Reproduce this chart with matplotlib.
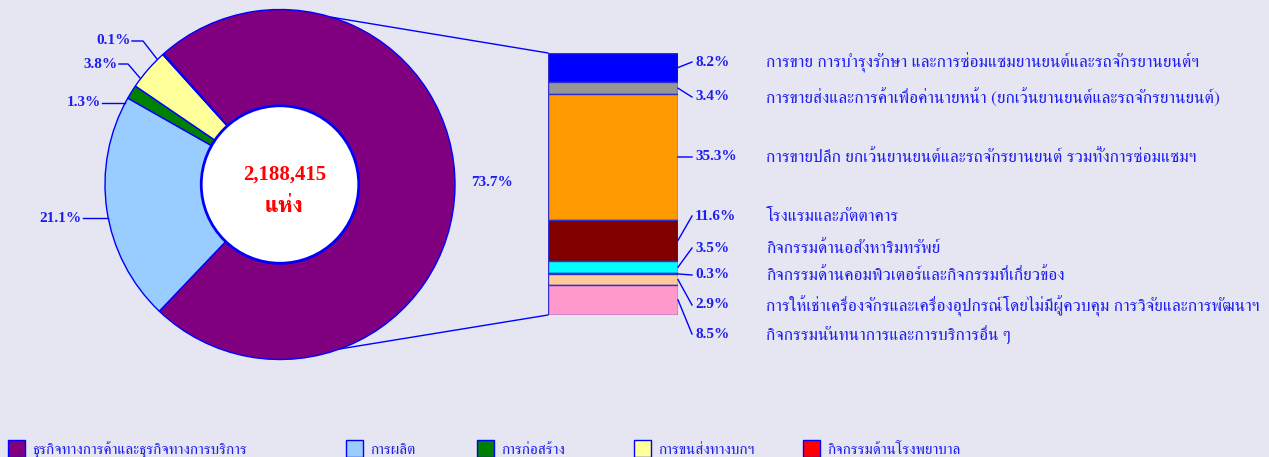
import math
import matplotlib
matplotlib.use('Agg')
import matplotlib.pyplot as plt
from matplotlib.patches import ConnectionPatch, Circle, Rectangle

# pie data
pie_labels = ['ธุรกิจทางการค้าและธุรกิจทางการบริการ', 'การผลิต', 'การก่อสร้าง',
              'การขนส่งทางบกฯ', 'กิจกรรมด้านโรงพยาบาล']
pie_values = [73.7, 21.1, 1.3, 3.8, 0.1]
pie_colors = ['#800080', '#99CCFF', '#008000', '#FFFF99', '#FF0000']
total_text = '2,188,415'
unit_text = 'แห่ง'

# bar (breakdown of first slice), top to bottom
bar_labels = ['การขาย การบำรุงรักษา และการซ่อมแซมยานยนต์และรถจักรยานยนต์ฯ',
              'การขายส่งและการค้าเพื่อค่านายหน้า (ยกเว้นยานยนต์และรถจักรยานยนต์)',
              'การขายปลีก ยกเว้นยานยนต์และรถจักรยานยนต์ รวมทั้งการซ่อมแซมฯ',
              'โรงแรมและภัตตาคาร',
              'กิจกรรมด้านอสังหาริมทรัพย์',
              'กิจกรรมด้านคอมพิวเตอร์และกิจกรรมที่เกี่ยวข้อง',
              'การให้เช่าเครื่องจักรและเครื่องอุปกรณ์โดยไม่มีผู้ควบคุม การวิจัยและการพัฒนาฯ',
              'กิจกรรมนันทนาการและการบริการอื่น ๆ']
bar_values = [8.2, 3.4, 35.3, 11.6, 3.5, 0.3, 2.9, 8.5]
bar_colors = ['#0000FF', '#969696', '#FF9900', '#800000', '#00FFFF', '#CCFFCC', '#FFCC99', '#FF99CC']

W, H = 1269, 457
bg = '#E6E6F2'
txt_blue = '#1E1EF0'
edge = '#0000FF'

serif = ['Liberation Serif', 'DejaVu Serif']
thai = ['FreeSerif', 'Loma', 'DejaVu Sans']

fig = plt.figure(figsize=(W / 100, H / 100), dpi=100, facecolor=bg)

def fbox(x, y, w, h):
    # pixel box (top-left origin) -> figure fraction
    return [x / W, 1 - (y + h) / H, w / W, h / H]

# ---- pie ----
cx, cy, R = 280, 184.5, 175
axp = fig.add_axes(fbox(cx - R, cy - R, 2 * R, 2 * R))
axp.set_facecolor('none')
axp.pie(pie_values, colors=pie_colors, startangle=131.7, counterclock=False,
        radius=1, wedgeprops=dict(edgecolor=edge, linewidth=1))
axp.add_patch(Circle((0, 0), 0.45, facecolor='white', edgecolor=edge, linewidth=2, zorder=5))
axp.set_xlim(-1, 1)
axp.set_ylim(-1, 1)
axp.set_aspect('equal')
axp.axis('off')

def pp(x, y):
    return ((x - cx) / R, (cy - y) / R)

axp.text(*pp(285, 175), total_text, color='red', fontsize=15, fontweight='bold',
         family=serif, ha='center', va='center', zorder=6)
axp.text(*pp(284, 206), unit_text, color='red', fontsize=16, fontweight='bold',
         family=thai, ha='center', va='center', zorder=6)

# pie labels: text right end, leader points (pixels)
pie_lab_pos = [
    (492, 182, None),
    (82, 218, [(83, 218), (108, 218)]),
    (101, 103, [(102, 103), (125, 103)]),
    (118, 64, [(119, 64), (128, 64), (140, 78)]),
    (131, 41, [(132, 41), (143, 41), (157, 59)]),
]
for v, (tx, ty, pts) in zip(pie_values, pie_lab_pos):
    s = '%.1f%%' % v
    if pts is None:
        axp.text(*pp(tx, ty), s, color=txt_blue, fontsize=11, fontweight='bold',
                 family=serif, ha='center', va='center', clip_on=False)
    else:
        axp.text(*pp(tx, ty), s, color=txt_blue, fontsize=11, fontweight='bold',
                 family=serif, ha='right', va='center', clip_on=False)
        xs, ys = zip(*[pp(a, b) for a, b in pts])
        axp.plot(xs, ys, color=edge, lw=1, clip_on=False)

# ---- stacked bar ----
bx0, by0, bw, bh = 548, 53, 130, 262
axb = fig.add_axes(fbox(bx0, by0, bw, bh))
axb.set_facecolor('none')
tot = sum(bar_values)
bottom = tot
mids = []
for v, c in zip(bar_values, bar_colors):
    bottom -= v
    axb.bar(0, v, bottom=bottom, width=1, color=c, edgecolor='#3030D0', linewidth=1)
    mids.append(bottom + v / 2)
axb.set_xlim(-0.5, 0.5)
axb.set_ylim(0, tot)
axb.axis('off')

def bp(x, y):
    return (-0.5 + (x - bx0) / bw, (by0 + bh - y) * tot / bh)

lab_y = [62, 97, 157, 216, 248, 275, 305, 334]
for v, lab, m, ly in zip(bar_values, bar_labels, mids, lab_y):
    x1, y1 = bp(692, ly)
    axb.plot([0.5, x1], [m, y1], color=edge, lw=1, clip_on=False)
    axb.text(*bp(695, ly), '%.1f%%' % v, color=txt_blue, fontsize=11, fontweight='bold',
             family=serif, ha='left', va='center', clip_on=False)
    axb.text(*bp(766, ly + 1), lab, color=txt_blue, fontsize=12.5,
             family=thai, ha='left', va='center', clip_on=False)

# connectors pie -> bar
for ang, yb in [(73.0, tot), (-70.0, 0)]:
    pa = (math.cos(math.radians(ang)), math.sin(math.radians(ang)))
    con = ConnectionPatch(xyA=pa, coordsA=axp.transData, xyB=(-0.5, yb), coordsB=axb.transData,
                          color=edge, lw=1)
    fig.add_artist(con)

# ---- legend ----
leg_x = [8, 346, 477, 634, 803]
for x, lab, c in zip(leg_x, pie_labels, pie_colors):
    fig.add_artist(Rectangle((x / W, 1 - 457 / H), 17 / W, 17 / H, transform=fig.transFigure,
                             facecolor=c, edgecolor=edge, linewidth=1))
    fig.text((x + 24) / W, 1 - 450 / H, lab, color=txt_blue, fontsize=11, family=thai,
             ha='left', va='center')

fig.savefig('out.png', dpi=100, facecolor=bg)
